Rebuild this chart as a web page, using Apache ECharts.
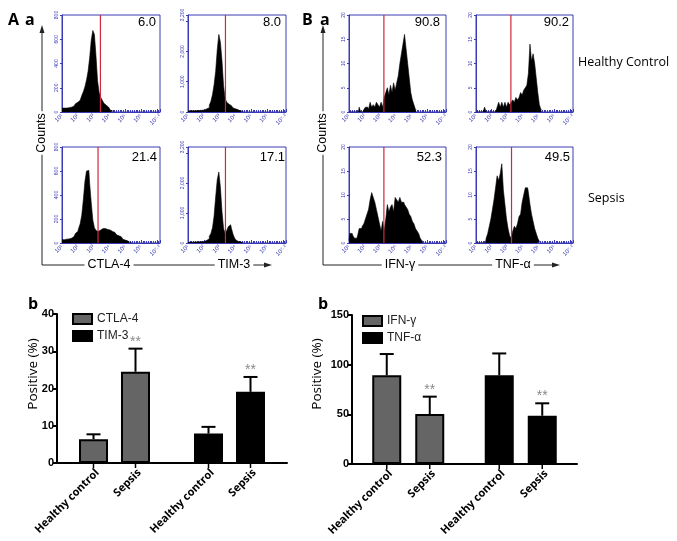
<!DOCTYPE html>
<html><head><meta charset="utf-8">
<script src="https://cdn.jsdelivr.net/npm/echarts@6/dist/echarts.min.js"></script>
<style>html,body{margin:0;padding:0;background:#fff}#c{width:677px;height:541px}</style>
</head><body><div id="c"></div>
<script>
// ================= DATA =================
// Histogram bins: log10 fluorescence from 10^1, one bin per 0.1 decade
const binStart = 1.0, binStep = 0.1;
const ctla4Healthy = [32,32,28,32,36,40,40,48,56,68,80,96,112,136,168,208,264,336,448,592,672,640,464,256,160,120,96,72,56,40,28,16,8,4];
const tim3Healthy  = [38,38,38,42,42,45,48,51,54,58,64,80,106,144,224,352,576,896,1344,2048,2560,2304,1696,864,448,320,256,208,166,134,106,80,58,38,26,16];
const ctla4Sepsis  = [28,28,30,32,34,38,40,52,64,80,96,120,160,232,360,512,600,605,496,336,192,128,104,96,108,116,120,120,116,112,108,104,96,88,76,68,60,52,40,32,24,18,10,6,3];
const tim3Sepsis   = [26,26,29,29,32,32,35,38,42,48,54,64,90,144,224,320,512,896,1536,2112,2368,1856,1056,480,320,416,544,608,480,288,160,90,51,32,19,13];
const ifngHealthy  = [0,0,0,0,0,0,0,1,0,0,0.5,1,1,0.5,2,1,1.5,1,2,1.5,1,2,1,3,4,5,3.5,5.5,4,6,4.5,6,7.5,10,12,14,16,13,10,7,4,2.5,1.5,0.5];
const tnfaHealthy  = [0,0,0,0,0,0,1,0,0,0,0,0,0,0,1,2,1,2,1,2,1,2,1.5,2,2.5,2,3,2.5,3,4,3.5,4.5,5,5.5,8,14,10.5,12,10,7,4,1.5,0.5];
const ifngSepsis   = [0.5,2,2,1.5,1,1,1.5,3,3,3.5,4,5,6,7,9,10.5,9.5,8.5,7,5.5,4,2.5,4.5,2.5,5,8,6.5,7.5,8,6.5,9.5,9,8.5,9.5,8.5,8.5,8,7.5,7,6,5.5,4.5,4,3,2.5,2,1,0.5];
const tnfaSepsis   = [0,0,0,0,0,0,0,1,2,3.5,5,7,9,11.5,14,13,14.5,16.5,11,8,5,3,1.5,1,2.5,3.5,3,4,5.5,6,8.5,10,11.5,11.5,10.5,8,6,4.5,3,2,1,0.3];
const histGates    = [3.43, 3.37, 3.28, 3.37, 3.23, 3.23, 3.23, 3.27];
const histPercents = ['6.0', '8.0', '21.4', '17.1', '90.8', '90.2', '52.3', '49.5'];
const histYMax     = [800, 3200, 800, 3200, 20, 20, 20, 20];
const histYStep    = [200, 1000, 200, 1000, 5, 5, 5, 5];
const xTickLabels  = {1:'10¹', 2:'10²', 3:'10³', 4:'10⁴', 5:'10⁵', 6:'10⁶', 7.2:'10⁷·²'};

// Bar charts
const conditions = ['Healthy control', 'Sepsis'];
const groupsA = ['CTLA-4', 'TIM-3'];
const ctla4Mean = [6.4, 24.5], ctla4Err = [1.3, 6.2];
const tim3Mean  = [7.9, 19.1], tim3Err  = [1.8, 4.0];
const groupsB = ['IFN-γ', 'TNF-α'];
const ifngMean = [89.3, 50.3], ifngErr = [21.4, 17.5];
const tnfaMean = [89.3, 48.6], tnfaErr = [22.0, 12.5];
const significant = [0, 1]; // ** marks on sepsis bars

// ================= LAYOUT / STYLE =================
const BLUE = '#3a3ab4', RED = '#d0283c', GRAY = '#656565';
const FONT = '"Liberation Sans", Arial, sans-serif';
const OPEN = '"Open Sans", "Liberation Sans", sans-serif';
const histSeriesData = [ctla4Healthy, tim3Healthy, ctla4Sepsis, tim3Sepsis, ifngHealthy, tnfaHealthy, ifngSepsis, tnfaSepsis];
const histBoxes = [
  [62,15,98,97],[188,15,98,97],[62,147,98,96],[188,147,98,96],
  [349,15,97,97],[476,15,97,97],[349,147,97,96],[476,147,97,96]
];
const pctPos = [[156,22],[281,22],[157,157],[285,157],[440,22],[569,22],[442,157],[570,157]];

const grids = [], xAxes = [], yAxes = [], series = [];
histBoxes.forEach((b, i) => {
  grids.push({left:b[0], top:b[1], width:b[2], height:b[3], show:true, borderColor:BLUE, borderWidth:1, backgroundColor:'#fff', containLabel:false, outerBoundsMode:'none'});
  xAxes.push({type:'value', gridIndex:i, min:1, max:7.2, interval:1,
    axisLine:{lineStyle:{color:BLUE, width:1}},
    axisTick:{inside:true, length:3, lineStyle:{color:BLUE}},
    minorTick:{show:true, splitNumber:9, length:2, lineStyle:{color:BLUE}},
    splitLine:{show:false},
    axisLabel:{fontSize:6, color:BLUE, rotate:45, margin:3, showMaxLabel:true, fontFamily:FONT,
      formatter: v => { const k = Math.round(v*10)/10; return xTickLabels[k] || ''; }}
  });
  const ymax = histYMax[i];
  yAxes.push({type:'value', gridIndex:i, min:0, max:ymax, interval:histYStep[i],
    axisLine:{show:true, lineStyle:{color:BLUE}},
    axisTick:{show:true, length:2, lineStyle:{color:BLUE}},
    splitLine:{show:false},
    axisLabel:{fontSize:5, color:BLUE, rotate:90, margin:3, fontFamily:FONT, showMaxLabel:true,
      formatter: v => (ymax === 3200 && v === 3000) ? '' : v.toLocaleString('en-US')}
  });
  series.push({type:'line', xAxisIndex:i, yAxisIndex:i, step:'middle', symbol:'none', silent:true,
    data: histSeriesData[i].map((v, k) => [binStart + k*binStep, v]),
    lineStyle:{color:'#000', width:0.6}, areaStyle:{color:'#000', opacity:1}, z:2
  });
  // gate line
  series.push({type:'line', xAxisIndex:i, yAxisIndex:i, symbol:'none', silent:true,
    data:[[histGates[i], 0], [histGates[i], ymax]],
    lineStyle:{color:RED, width:1.2, type:'solid'}, itemStyle:{color:RED}, z:4
  });
});

// Bar chart grids
const BAR_W = 29;
const barDefs = [
  {grid:{left:57, top:314, width:230, height:149}, groups:groupsA, max:40, step:10,
   sets:[[ctla4Mean, ctla4Err, GRAY, 'CTLA-4'], [tim3Mean, tim3Err, '#000', 'TIM-3']], gap:13, legend:{left:72, top:313}},
  {grid:{left:352, top:315, width:225, height:149}, groups:groupsB, max:150, step:50,
   sets:[[ifngMean, ifngErr, GRAY, 'IFN-γ'], [tnfaMean, tnfaErr, '#000', 'TNF-α']], gap:14, legend:{left:362, top:315}}
];
const legends = [];
barDefs.forEach((d, j) => {
  const gi = 8 + j;
  grids.push(Object.assign({containLabel:false, outerBoundsMode:'none'}, d.grid));
  xAxes.push({type:'category', gridIndex:gi, data:d.groups,
    axisLine:{lineStyle:{color:'#000', width:2}}, axisTick:{show:false}, axisLabel:{show:false}});
  yAxes.push({type:'value', gridIndex:gi, min:0, max:d.max, interval:d.step,
    axisLine:{show:true, lineStyle:{color:'#000', width:2}},
    axisTick:{show:true, length:4, lineStyle:{color:'#000', width:2}},
    splitLine:{show:false},
    axisLabel:{fontSize:11, fontWeight:'bold', color:'#000', margin:3, fontFamily:FONT}});
  const gapPct = (d.gap / BAR_W * 100).toFixed(1) + '%';
  const errRows = [];
  d.sets.forEach((s, gIdx) => {
    conditions.forEach((c, cIdx) => {
      const data = d.groups.map((g, k) => k === gIdx ? s[0][cIdx] : '-');
      series.push({type:'bar', name:s[3], xAxisIndex:gi, yAxisIndex:gi, stack:'b'+j+'_'+cIdx,
        data, barWidth:BAR_W, barGap:gapPct,
        itemStyle:{color:s[2], borderColor:'#000', borderWidth:2}, z:3});
      errRows.push([gIdx, cIdx, s[0][cIdx], s[1][cIdx], significant[cIdx]]);
    });
  });
  const pitch = BAR_W + d.gap;
  series.push({type:'custom', xAxisIndex:gi, yAxisIndex:gi, data:errRows, encode:{x:0, y:2}, clip:false, z:5, silent:true,
    renderItem:(params, api) => {
      const g = api.value(0), c = api.value(1), m = api.value(2), e = api.value(3), s = api.value(4);
      const base = api.coord([g, 0]), top = api.coord([g, m]), up = api.coord([g, m + e]);
      const x = base[0] + (c - 0.5) * pitch;
      const ch = [
        {type:'line', shape:{x1:x, y1:top[1], x2:x, y2:up[1]}, style:{stroke:'#000', lineWidth:2}},
        {type:'line', shape:{x1:x-7, y1:up[1], x2:x+7, y2:up[1]}, style:{stroke:'#000', lineWidth:2}},
        {type:'line', shape:{x1:x, y1:base[1], x2:x, y2:base[1]+5}, style:{stroke:'#000', lineWidth:1.5}},
        {type:'text', x:x+4, y:base[1]+8, rotation:Math.PI/4,
          style:{text:conditions[c], textAlign:'right', textVerticalAlign:'middle', font:'bold 11px ' + OPEN, fill:'#000'}}
      ];
      if (s) ch.push({type:'text', x:x, y:up[1]-7, style:{text:'**', textAlign:'center', textVerticalAlign:'middle', font:'14px ' + FONT, fill:'#8a8a8a'}});
      return {type:'group', children:ch};
    }
  });
  legends.push({data:d.sets.map(s => s[3]), left:d.legend.left, top:d.legend.top, orient:'vertical', padding:0,
    icon:'rect', itemWidth:19, itemHeight:10, itemGap:5, selectedMode:false,
    textStyle:{fontSize:12, color:'#222', fontFamily:FONT}});
});

// ================= TEXT / FRAMES =================
const T = (x, y, text, font, extra) => ({type:'text', x, y, silent:true, z:10,
  style:Object.assign({text, font, fill:'#000', textAlign:'left', textVerticalAlign:'middle'}, extra || {})});
const L = (pts) => ({type:'polyline', silent:true, z:9, shape:{points:pts}, style:{stroke:'#222', lineWidth:1, fill:null}});
const TRI = (pts) => ({type:'polygon', silent:true, z:9, shape:{points:pts}, style:{fill:'#222'}});
const graphics = [];
graphics.push(T(8, 20, 'A', 'bold 16px ' + OPEN));
graphics.push(T(25, 20, 'a', 'bold 16px ' + OPEN));
graphics.push(T(302, 20, 'B', 'bold 16px ' + OPEN));
graphics.push(T(320, 20, 'a', 'bold 16px ' + OPEN));
graphics.push(T(28, 304, 'b', 'bold 16px ' + OPEN));
graphics.push(T(318, 304, 'b', 'bold 16px ' + OPEN));
histPercents.forEach((p, i) => graphics.push(T(pctPos[i][0], pctPos[i][1], p, '13px ' + FONT, {textAlign:'right'})));
graphics.push(T(578, 62, 'Healthy Control', '12.5px ' + OPEN));
graphics.push(T(588, 198, 'Sepsis', '12.5px ' + OPEN));
// Counts frames
[[42, 272, [['CTLA-4', 109], ['TIM-3', 234]]], [323, 560, [['IFN-γ', 400], ['TNF-α', 513]]]].forEach(f => {
  const x0 = f[0], x1 = f[1];
  graphics.push(L([[x0, 30], [x0, 265], [x1 - 5, 265]]));
  graphics.push(TRI([[x0, 25], [x0 - 2.5, 33], [x0 + 2.5, 33]]));
  graphics.push(TRI([[x1, 265], [x1 - 8, 262.5], [x1 - 8, 267.5]]));
  graphics.push(T(x0, 133, 'Counts', '12.5px ' + FONT, {textAlign:'center', backgroundColor:'#fff', padding:[0, 2]}));
  graphics[graphics.length - 1].rotation = Math.PI / 2;
  f[2].forEach(t => graphics.push(T(t[1], 265, t[0], '12.5px ' + FONT, {textAlign:'center', backgroundColor:'#fff', padding:[0, 3]})));
});
const pl1 = T(33, 374, 'Positive (%)', '13.5px ' + OPEN, {textAlign:'center'}); pl1.rotation = Math.PI / 2; graphics.push(pl1);
const pl2 = T(317, 374, 'Positive (%)', '13.5px ' + OPEN, {textAlign:'center'}); pl2.rotation = Math.PI / 2; graphics.push(pl2);

const chart = echarts.init(document.getElementById('c'), null, {renderer:'canvas'});
chart.setOption({
  animation:false,
  backgroundColor:'#fff',
  textStyle:{fontFamily:FONT},
  grid:grids, xAxis:xAxes, yAxis:yAxes, series, legend:legends, graphic:graphics
});
</script></body></html>
